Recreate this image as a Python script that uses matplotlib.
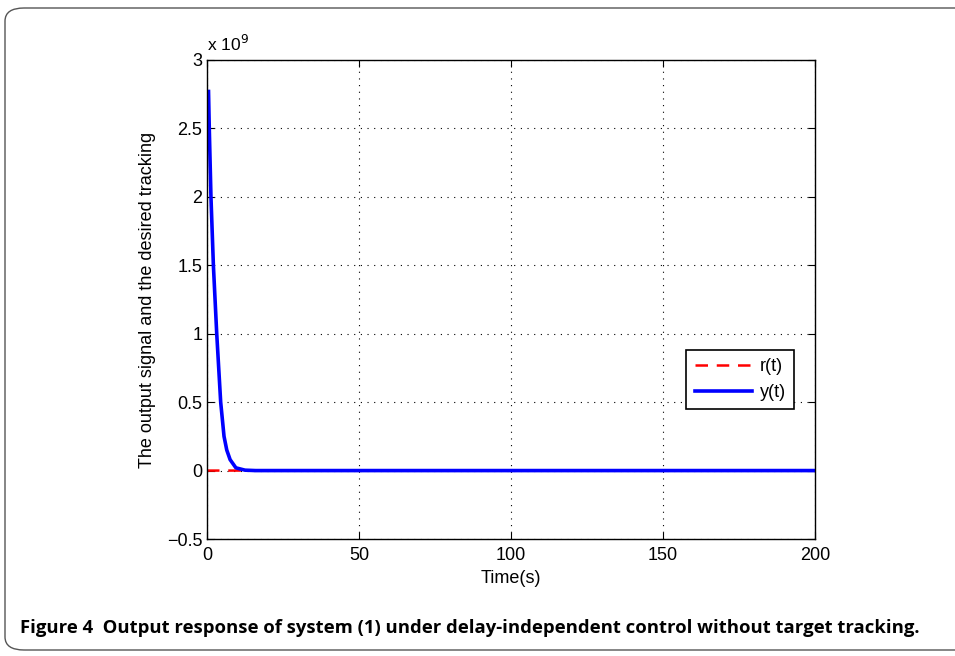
import matplotlib
matplotlib.use("Agg")
import matplotlib.pyplot as plt
from matplotlib.patches import FancyBboxPatch
from matplotlib.ticker import FixedLocator

# Data (values in units of 1e9)
t_y = [0.5, 0.75, 1.3, 2.1, 3.2, 4.5, 5.6, 6.5, 7.6, 9.5, 12.5, 16, 200]
y_vals = [2.77, 2.5, 2.0, 1.5, 1.0, 0.5, 0.25, 0.15, 0.08, 0.02, 0.003, 0.0, 0.0]
t_r = [0, 200]
r_vals = [0.0, 0.0]
x_ticks = [0, 50, 100, 150, 200]
y_ticks = [-0.5, 0, 0.5, 1, 1.5, 2, 2.5, 3]
y_tick_labels = ["\u22120.5", "0", "0.5", "1", "1.5", "2", "2.5", "3"]

plt.rcParams['font.family'] = ['Liberation Sans', 'DejaVu Sans']

W, H = 955, 656
fig = plt.figure(figsize=(W / 100, H / 100), dpi=100)

# outer rounded frame
frame = FancyBboxPatch((5 / W, 6 / H), 1.2, 1 - 14 / H,
                       boxstyle="round,pad=0,rounding_size=0.02",
                       transform=fig.transFigure, fill=False,
                       edgecolor="#555555", linewidth=1.0, clip_on=False)
fig.patches.append(frame)

ax = fig.add_axes([207 / W, 1 - 539 / H, (815 - 207) / W, (539 - 60) / H])
ax.plot(t_r, r_vals, color="red", linestyle=(0, (5, 3.5)), linewidth=1.8, label="r(t)", snap=False)
ax.plot(t_y, y_vals, color="blue", linewidth=2.6, label="y(t)", snap=False)

ax.set_xlim(0, 200)
ax.set_ylim(-0.5, 3)
ax.xaxis.set_major_locator(FixedLocator(x_ticks))
ax.yaxis.set_major_locator(FixedLocator(y_ticks))
ax.set_yticklabels(y_tick_labels)
ax.tick_params(direction="in", top=True, right=True, labelsize=13, length=5, width=0.8)
ax.tick_params(axis="x", pad=6)
ax.grid(True, color="black", linestyle=(0, (1, 5)), linewidth=0.8)
for s in ax.spines.values():
    s.set_linewidth(1.0)

ax.set_xlabel("Time(s)", fontsize=13, labelpad=4)
ax.set_ylabel("The output signal and the desired tracking", fontsize=13, labelpad=8)
ax.text(0.0, 1.012, r"x 10$^{9}$", transform=ax.transAxes, fontsize=12.5, ha="left", va="bottom")

leg = ax.legend(loc="center right", bbox_to_anchor=(0.98, 0.333), fancybox=False,
                edgecolor="black", framealpha=1, fontsize=13, handlelength=3.2,
                borderpad=0.45, labelspacing=0.5, handletextpad=0.4)
leg.get_frame().set_linewidth(1.2)

fig.text(20 / W, 1 - 628 / H,
         "Figure 4  Output response of system (1) under delay-independent control without target tracking.",
         fontsize=13.3, fontweight="bold", family=["Open Sans", "DejaVu Sans"],
         ha="left", va="center")

fig.savefig("out.png", dpi=100)
